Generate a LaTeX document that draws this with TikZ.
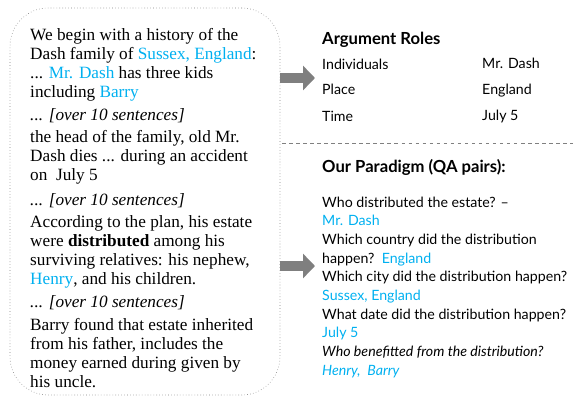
\documentclass[tikz,border=0pt]{standalone}
\usepackage{fontspec}
\setmainfont{Liberation Serif}
\newfontfamily\gillfont{Lato}
\usetikzlibrary{arrows.meta}

\definecolor{argblue}{RGB}{0,176,240}
\definecolor{arrowgray}{RGB}{127,127,127}
\newcommand{\argtxt}[1]{\textcolor{argblue}{#1}}

\begin{document}
\begin{tikzpicture}[x=0.03cm, y=-0.03cm,
      storybox/.style={draw=gray, dotted, line width=0.5pt, rounded corners=1.15cm,
                       minimum width=8.1cm, minimum height=11.61cm, inner sep=0pt},
      para/.style={anchor=base west, align=left, inner sep=0pt,
                   font=\fontsize{14.7}{16.2}\selectfont},
      side/.style={anchor=base west, align=left, inner sep=0pt,
                   font=\gillfont\fontsize{12.1}{15.9}\selectfont},
      head/.style={side, font=\gillfont\bfseries\fontsize{14.2}{16}\selectfont},
      bigarrow/.style={draw=arrowgray, line width=0.3cm,
                       -{Triangle[length=0.36cm, width=0.72cm]}},
      sep/.style={draw=gray, dashed, line width=0.6pt}]

    \useasboundingbox (0,0) rectangle (573,398);

    % ===== Story (left) =====
    \node[storybox] (story) at (145,201.5) {};

    % (nodes sit on the baseline of their last line)
    \node[para] (p1) at (30,97) {We begin with a history of the\\
        Dash family of \argtxt{Sussex, England}:\\
        ... \argtxt{Mr. Dash} has three kids\\
        including \argtxt{Barry}};
    \node[para] (gap1) at (30,120) {\itshape ... [over 10 sentences]};
    \node[para] (p2) at (30,180) {the head of the family, old Mr.\\
        Dash dies ... during an accident\\
        on\ \ July 5};
    \node[para] (gap2) at (30,205) {\itshape ... [over 10 sentences]};
    \node[para] (p3) at (30,284) {According to the plan, his estate\\
        were \textbf{distributed} among his\\
        surviving relatives: his nephew,\\
        \argtxt{Henry}, and his children.};
    \node[para] (gap3) at (30,307) {\itshape ... [over 10 sentences]};
    \node[para] (p4) at (30,387) {Barry found that estate inherited\\
        from his father, includes the\\
        money earned during given by\\
        his uncle.};

    % ===== Argument roles (top right) =====
    \node[head] (roles) at (322,45) {Argument Roles};
    \foreach \y/\role/\val/\name in {70/Individuals/Mr. Dash/ind,
                                     95/Place/England/place,
                                     121/Time/July 5/time} {
        \node[side] (\name) at (322,\y) {\role};
        \node[side] (\name-val) at (482,\y-1) {\val};
    }

    \coordinate (sepl) at (282,143);
    \coordinate (sepr) at (573,143);
    \draw[sep] (sepl) -- (sepr);

    % ===== QA pairs (bottom right) =====
    \node[head] (paradigm) at (322,172) {Our Paradigm (QA pairs):};
    \node[side] (qa) at (322,375) {Who distributed the estate? \textendash\\
        \argtxt{Mr. Dash}\\
        Which country did the distribution\\
        happen?\ \ \argtxt{England}\\
        Which city did the distribution happen?\\
        \argtxt{Sussex, England}\\
        What date did the distribution happen?\\
        \argtxt{July 5}\\
        \itshape Who benefitted from the distribution?\\
        \itshape\argtxt{Henry,\ \ Barry}};

    % ===== Arrows =====
    \coordinate (rolesin) at (315,78);
    \coordinate (qain) at (315,266);
    \draw[bigarrow] (story.east |- rolesin) -- (rolesin);
    \draw[bigarrow] (story.east |- qain) -- (qain);

\end{tikzpicture}
\end{document}
